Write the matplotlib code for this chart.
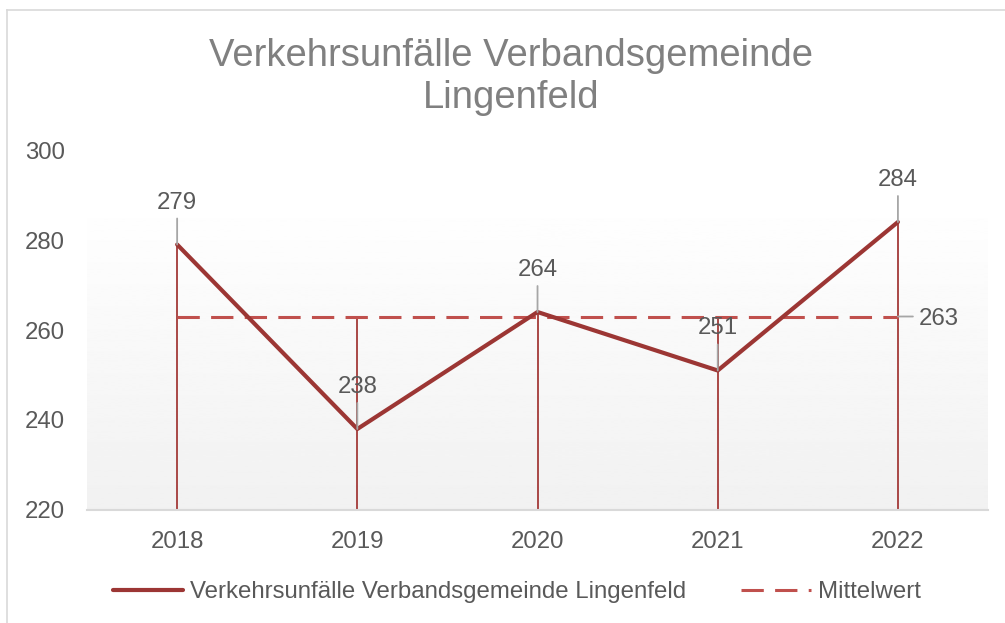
import matplotlib.pyplot as plt
import numpy as np
from matplotlib.lines import Line2D

plt.rcParams['font.family'] = ['Liberation Sans', 'DejaVu Sans']

jahre = ['2018', '2019', '2020', '2021', '2022']
unfaelle = [279, 238, 264, 251, 284]
mittelwert = [263, 263, 263, 263, 263]

titel = 'Verkehrsunfälle Verbandsgemeinde\nLingenfeld'
name_reihe = 'Verkehrsunfälle Verbandsgemeinde Lingenfeld'
name_mittel = 'Mittelwert'

text_farbe = '#595959'
linie_farbe = '#9C3634'
mittel_farbe = '#C0504D'
fuehrung_farbe = '#A6A6A6'

fig = plt.figure(figsize=(10.05, 6.23), dpi=100)
ax = fig.add_axes([0.0866, 0.1814, 0.8965, 0.5778])

x = np.arange(len(jahre))

# Hintergrund mit Verlauf von weiss nach hellgrau
verlauf = np.linspace(1.0, 0.945, 256).reshape(-1, 1)
ax.imshow(verlauf, cmap='gray', vmin=0, vmax=1, aspect='auto',
          extent=(-0.5, 4.5, 220, 290), origin='upper', zorder=0)

# Lotlinien bis zur x-Achse
obere = np.maximum(unfaelle, mittelwert)
ax.vlines(x, 220, obere, color='#A33A38', lw=1.3, zorder=2)

ax.plot(x, mittelwert, color=mittel_farbe, lw=2.2, linestyle=(0, (7.3, 3.7)),
        label=name_mittel, zorder=3)
ax.plot(x, unfaelle, color=linie_farbe, lw=3.0, solid_capstyle='round',
        label=name_reihe, zorder=4)

# Datenbeschriftungen mit Führungslinien
for xi, wert in zip(x, unfaelle):
    ax.annotate('', xy=(xi, wert), xytext=(0, 26), textcoords='offset pixels',
                arrowprops=dict(arrowstyle='-', color=fuehrung_farbe, lw=1.3,
                                shrinkA=0, shrinkB=0), zorder=5)
    ax.annotate(str(wert), xy=(xi, wert), xytext=(0, 42), textcoords='offset pixels',
                ha='center', va='center', fontsize=17.3, color=text_farbe, zorder=6)

ax.annotate('', xy=(x[-1], mittelwert[-1]), xytext=(15, 0), textcoords='offset pixels',
            arrowprops=dict(arrowstyle='-', color=fuehrung_farbe, lw=1.3,
                            shrinkA=0, shrinkB=0), zorder=5)
ax.annotate(str(mittelwert[-1]), xy=(x[-1], mittelwert[-1]), xytext=(21, -2),
            textcoords='offset pixels', ha='left', va='center',
            fontsize=17.3, color=text_farbe, zorder=6)

ax.set_xlim(-0.5, 4.5)
ax.set_ylim(220, 300)
ax.set_yticks(np.arange(220, 301, 20))
ax.set_xticks(x)
ax.set_xticklabels(jahre)
ax.tick_params(axis='both', length=0, labelsize=17.3, labelcolor=text_farbe)
ax.tick_params(axis='y', pad=16)
ax.tick_params(axis='x', pad=15)
ax.set_facecolor('none')
for seite in ['left', 'right', 'top']:
    ax.spines[seite].set_visible(False)
ax.spines['bottom'].set_color('#D9D9D9')
ax.spines['bottom'].set_linewidth(1.5)

fig.text(511 / 1005, 1 - 77 / 623, titel, ha='center', va='center',
         fontsize=27.5, color='#808080', linespacing=1.25)

griffe = [Line2D([], [], color=linie_farbe, lw=3.0, solid_capstyle='round'),
          Line2D([], [], color=mittel_farbe, lw=2.2, linestyle=(0, (7.3, 3.7)))]
fig.legend(griffe, [name_reihe, name_mittel], loc='center',
           bbox_to_anchor=(517 / 1005, 1 - 592 / 623), ncol=2, frameon=False,
           fontsize=17.3, labelcolor=text_farbe, handlelength=2.9,
           handletextpad=0.3, columnspacing=2.3)

# Rahmen des Diagrammbereichs
fig.add_artist(Line2D([7 / 1005, 7 / 1005], [0, 1 - 10 / 623],
                      transform=fig.transFigure, color='#D9D9D9', lw=1.2))
fig.add_artist(Line2D([7 / 1005, 1], [1 - 10 / 623, 1 - 10 / 623],
                      transform=fig.transFigure, color='#D9D9D9', lw=1.2))

fig.savefig('out.png', dpi=100, facecolor='white')
